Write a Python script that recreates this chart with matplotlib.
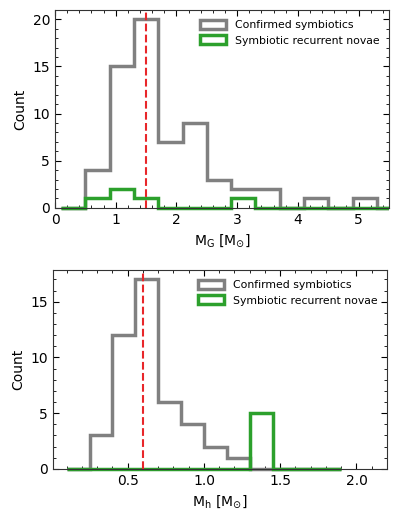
import numpy as np
import matplotlib.pyplot as plt
from matplotlib.patches import Rectangle
from matplotlib.ticker import AutoMinorLocator

# ---- data ----
# top panel: M_G, bins of 0.4 from 0.1
g_edges = [0.1, 0.5, 0.9, 1.3, 1.7, 2.1, 2.5, 2.9, 3.3, 3.7, 4.1, 4.5, 4.9, 5.3, 5.7]
g_symb = [0, 4, 15, 20, 7, 9, 3, 2, 2, 0, 1, 0, 1, 0]
g_rn = [0, 1, 2, 1, 0, 0, 0, 1, 0, 0, 0, 0, 0, 0]
g_median = 1.5

# bottom panel: M_h, bins of 0.15 from 0.1
h_edges = [0.1, 0.25, 0.4, 0.55, 0.7, 0.85, 1.0, 1.15, 1.3, 1.45, 1.6, 1.75, 1.9]
h_symb = [0, 3, 12, 17, 6, 4, 2, 1, 0, 0, 0, 0]
h_rn = [0, 0, 0, 0, 0, 0, 0, 0, 5, 0, 0, 0]
h_median = 0.6

GREY = "#808080"
GREEN = "#2ca02c"

fig = plt.figure(figsize=(4.0, 5.21), dpi=100)
ax1 = fig.add_axes([0.1375, 0.601, 0.835, 0.380])
ax2 = fig.add_axes([0.1325, 0.100, 0.835, 0.382])


def panel(ax, edges, symb, rn, med, xlabel):
    centers = (np.array(edges[:-1]) + np.array(edges[1:])) / 2
    _, _, p1 = ax.hist(centers, bins=edges, weights=symb, histtype="step",
                       color=GREY, lw=2.5, label="Confirmed symbiotics")
    _, _, p2 = ax.hist(centers, bins=edges, weights=rn, histtype="step",
                       color=GREEN, lw=2.5, label="Symbiotic recurrent novae")
    # clip left/right only, so the zero-count baseline shows in full
    clip = Rectangle((0, -0.05), 1, 1.1, transform=ax.transAxes)
    for p in list(p1) + list(p2):
        p.set_clip_path(clip)
    ax.axvline(med, color="#e8262a", ls="--", lw=1.5)
    ax.set_ylim(bottom=0)
    ax.set_ylabel("Count", fontsize=10)
    ax.set_xlabel(xlabel, fontsize=10)
    ax.xaxis.set_minor_locator(AutoMinorLocator())
    ax.yaxis.set_minor_locator(AutoMinorLocator())
    ax.tick_params(which="both", direction="in", top=True, right=True,
                   labelsize=10)
    ax.tick_params(which="major", length=4)
    ax.tick_params(which="minor", length=2)
    for s in ax.spines.values():
        s.set_color("#333333")
    ax.legend(loc="upper right", fontsize=7.8, frameon=False,
              handlelength=2.4, handleheight=0.9, borderaxespad=0.5)


panel(ax1, g_edges, g_symb, g_rn, g_median, r"M$_{\rm G}$ [M$_{\odot}$]")
ax1.set_xlim(0, 5.5)

panel(ax2, h_edges, h_symb, h_rn, h_median, r"M$_{\rm h}$ [M$_{\odot}$]")
ax2.set_xlim(0.01, 2.2)

fig.savefig("out.png", dpi=100)
